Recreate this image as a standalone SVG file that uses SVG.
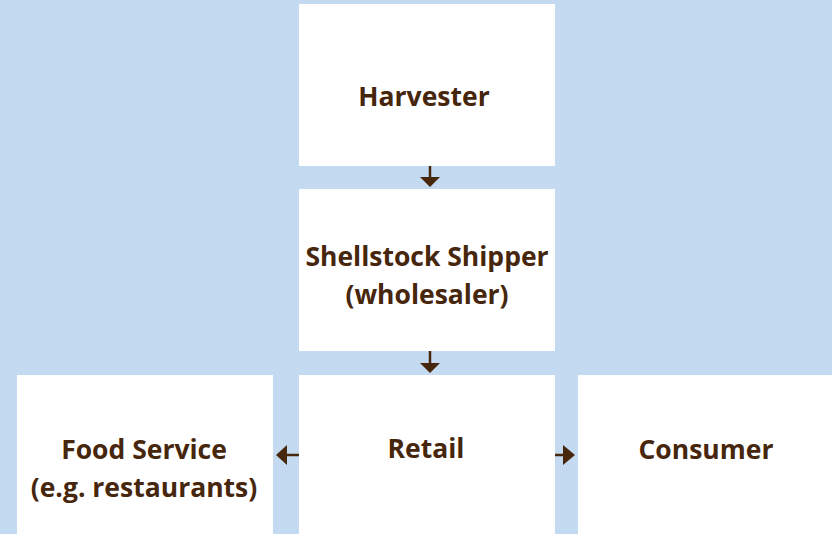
<svg xmlns="http://www.w3.org/2000/svg" width="832" height="534" viewBox="0 0 832 534">
<style>
.bg{fill:#c3daf1}
.box{fill:#ffffff}
.t{font-family:"Open Sans","Liberation Sans",sans-serif;font-weight:bold;font-size:26.5px;fill:#46260c;text-anchor:middle}
.c{stroke:#46260c;stroke-width:2.5;fill:none}
.h{fill:#46260c}
</style>
<rect class="bg" x="0" y="0" width="832" height="534"/>
<g id="harvester"><rect class="box" x="299" y="4" width="256" height="162"/><text class="t" x="424" y="106">Harvester</text></g>
<g id="shipper"><rect class="box" x="299" y="189" width="256" height="162"/><text class="t" x="427" y="266">Shellstock Shipper</text><text class="t" x="427" y="304">(wholesaler)</text></g>
<g id="retail"><rect class="box" x="299" y="375" width="256" height="162"/><text class="t" x="426" y="458">Retail</text></g>
<g id="foodservice"><rect class="box" x="17" y="375" width="256" height="162"/><text class="t" x="144" y="459">Food Service</text><text class="t" x="144" y="497">(e.g. restaurants)</text></g>
<g id="consumer"><rect class="box" x="578" y="375" width="256" height="162"/><text class="t" x="706" y="459">Consumer</text></g>
<g id="connectors">
<line class="c" x1="430" y1="166" x2="430" y2="178"/><polygon class="h" points="420,177 440,177 430,187"/>
<line class="c" x1="430" y1="351" x2="430" y2="364"/><polygon class="h" points="420,363 440,363 430,373"/>
<line class="c" x1="299" y1="455" x2="286" y2="455"/><polygon class="h" points="287,445 287,465 276,455"/>
<line class="c" x1="555" y1="455" x2="564" y2="455"/><polygon class="h" points="563,445 563,465 575,455"/>
</g>
</svg>
